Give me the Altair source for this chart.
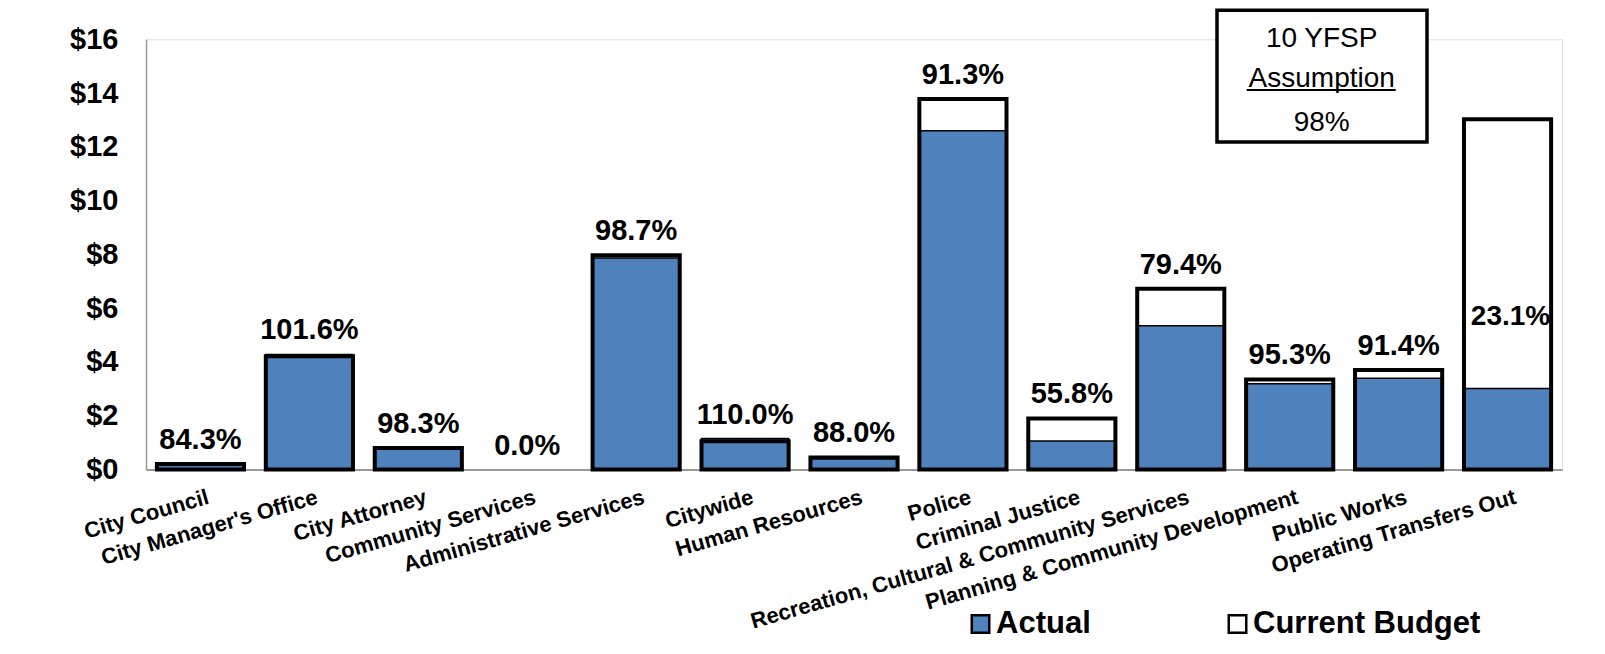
import altair as alt
import pandas as pd

categories = [
    "City Council", "City Manager's Office", "City Attorney", "Community Services",
    "Administrative Services", "Citywide", "Human Resources", "Police",
    "Criminal Justice", "Recreation, Cultural & Community Services",
    "Planning & Community Development", "Public Works", "Operating Transfers Out",
]
actual = [0.17, 4.28, 0.79, 0.0, 7.87, 1.15, 0.40, 12.60, 1.06, 5.35, 3.19, 3.39, 3.01]
budget = [0.20, 4.21, 0.80, 0.0, 7.97, 1.05, 0.45, 13.78, 1.90, 6.72, 3.35, 3.70, 13.03]
pct_labels = ["84.3%", "101.6%", "98.3%", "0.0%", "98.7%", "110.0%", "88.0%",
              "91.3%", "55.8%", "79.4%", "95.3%", "91.4%", "23.1%"]
series_names = ["Actual", "Current Budget"]
y_ticks = [0, 2, 4, 6, 8, 10, 12, 14, 16]
box_lines = ["10 YFSP", "Assumption", "98%"]
inside_label_cat = "Operating Transfers Out"
inside_label_value = 5.37

BLUE = "#4F81BD"
FONT = "Liberation Sans"

df = pd.DataFrame({"category": categories, "actual": actual, "budget": budget, "pct": pct_labels})
df["top"] = df[["actual", "budget"]].max(axis=1)

y_scale = alt.Scale(domain=[0, 16], nice=False, zero=True)
color_scale = alt.Scale(domain=series_names, range=[BLUE, "white"])

x_enc = alt.X(
    "category:N", sort=categories,
    scale=alt.Scale(paddingInner=0.2, paddingOuter=0.1),
    axis=alt.Axis(title=None, labelAngle=-16, labelAlign="right", labelBaseline="top",
                  labelFontSize=22, labelFontWeight="bold", labelFont=FONT,
                  labelColor="black", labelLimit=1000, labelPadding=17, labelOffset=5,
                  ticks=False, tickSize=0, domainColor="#999999", domainWidth=2,
                  labelOverlap=False),
)
y_enc_budget = alt.Y(
    "budget:Q", scale=y_scale,
    axis=alt.Axis(title=None, values=y_ticks, labelExpr="'$' + datum.value",
                  labelFontSize=29, labelFontWeight="bold", labelFont=FONT,
                  labelColor="black", ticks=False, tickSize=0, grid=False,
                  domainColor="#999999", domainWidth=1.5, labelPadding=28),
)

legend = alt.Legend(
    title=None, orient="none", legendX=819, legendY=569, direction="horizontal",
    symbolType="square", symbolSize=306, labelFontSize=31, labelFontWeight="bold",
    labelFont=FONT, labelColor="black", labelLimit=500, columnPadding=131, labelOffset=0,
    symbolStrokeColor="black", symbolStrokeWidth=2.5, padding=0,
)

base = alt.Chart(df)

budget_fill = base.transform_calculate(series="'Current Budget'").mark_bar(strokeWidth=0).encode(
    x=x_enc, y=y_enc_budget,
    color=alt.Color("series:N", scale=color_scale, legend=legend),
)
actual_bars = base.transform_calculate(series="'Actual'").transform_filter(
    "datum.actual > 0").mark_bar(stroke="black", strokeWidth=1.5).encode(
    x=x_enc, y=alt.Y("actual:Q", scale=y_scale),
    color=alt.Color("series:N", scale=color_scale, legend=legend),
)
budget_outline = base.transform_filter("datum.budget > 0").mark_bar(
    fillOpacity=0, fill="white", stroke="black", strokeWidth=4).encode(
    x=x_enc, y=alt.Y("budget:Q", scale=y_scale),
)
pct_text = base.transform_filter(f"datum.category != '{inside_label_cat}'").mark_text(
    baseline="alphabetic", dy=-15, fontSize=29, fontWeight="bold", font=FONT, color="black"
).encode(x=x_enc, y=alt.Y("top:Q", scale=y_scale), text="pct:N")
pct_inside = base.transform_filter(f"datum.category == '{inside_label_cat}'").mark_text(
    baseline="alphabetic", dx=3, fontSize=28, fontWeight="bold", font=FONT, color="black"
).encode(x=x_enc, y=alt.datum(inside_label_value), text="pct:N")

box_df = pd.DataFrame({"line": box_lines})
box_src = alt.Chart(box_df)
box_rect = alt.Chart(pd.DataFrame({"k": [0]})).mark_rect(
    fill="white", stroke="black", strokeWidth=3.5).encode(
    x=alt.value(1071), x2=alt.value(1281), y=alt.value(-29), y2=alt.value(102.7))
box_t1 = box_src.transform_filter(f"datum.line == '{box_lines[0]}'").mark_text(
    baseline="alphabetic", fontSize=28, font=FONT, color="black").encode(
    x=alt.value(1175.7), y=alt.value(7.4), text="line:N")
box_t2 = box_src.transform_filter(f"datum.line == '{box_lines[1]}'").mark_text(
    baseline="alphabetic", fontSize=28, font=FONT, color="black").encode(
    x=alt.value(1175.7), y=alt.value(48.0), text="line:N")
box_t3 = box_src.transform_filter(f"datum.line == '{box_lines[2]}'").mark_text(
    baseline="alphabetic", fontSize=28, font=FONT, color="black").encode(
    x=alt.value(1175.7), y=alt.value(91.7), text="line:N")
underline = alt.Chart(pd.DataFrame({"k": [0]})).mark_rule(color="black", strokeWidth=2).encode(
    x=alt.value(1100.7), x2=alt.value(1249.7), y=alt.value(50.8))

chart = alt.layer(
    budget_fill, actual_bars, budget_outline, pct_text, pct_inside,
    box_rect, box_t1, box_t2, box_t3, underline,
).properties(
    width=1416, height=430.2,
    autosize=alt.AutoSizeParams(type="none"),
    padding={"left": 138, "top": 31.3, "right": 35, "bottom": 172.5},
).configure_view(stroke=None).configure(background="white")

chart.save("out.html", embed_options={"renderer": "svg", "actions": False})
